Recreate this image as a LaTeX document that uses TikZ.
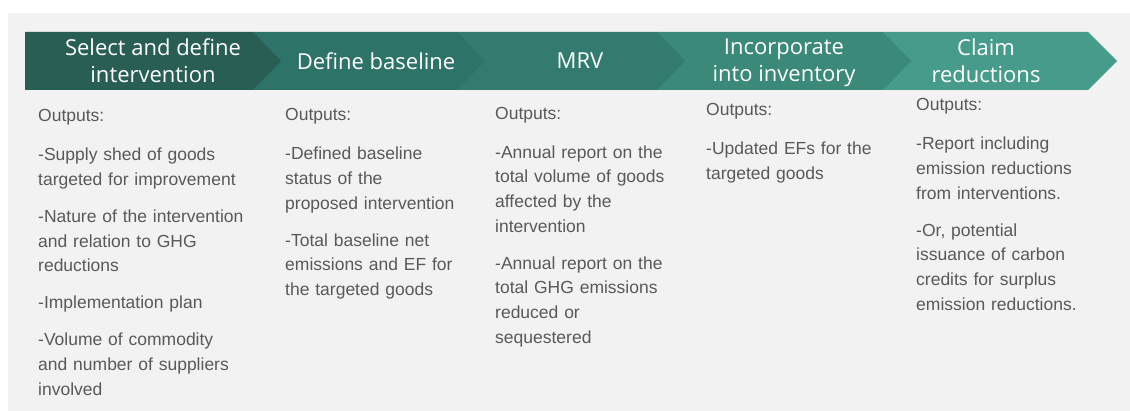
\documentclass[tikz,border=0pt]{standalone}
\usepackage{fontspec}
\setmainfont{Liberation Sans}
\newfontfamily\hdrfont{Open Sans}
\definecolor{panel}{HTML}{F2F2F2}
\definecolor{bodytxt}{HTML}{595959}
\definecolor{stepA}{HTML}{295E55}
\definecolor{stepB}{HTML}{2E7367}
\definecolor{stepC}{HTML}{327B6E}
\definecolor{stepD}{HTML}{3A8979}
\definecolor{stepE}{HTML}{479B8B}

\begin{document}
\begin{tikzpicture}[x=1pt,y=-1pt,
  hdr/.style={text=white,font=\hdrfont\fontsize{22}{27}\selectfont,align=center,inner sep=0pt},
  outp/.style={text=bodytxt,font=\fontsize{17.5}{24.7}\selectfont,align=left,
    anchor=north west,inner sep=0pt,text width=215pt}]
\useasboundingbox (0,0) rectangle (1130,411);
\fill[panel] (8,13) rectangle (1130,411);
% chevrons, last one first so each tip lies on the next
\fill[stepE] (883,32) -- (1088,32) -- (1117,61) -- (1088,90) -- (883,90) -- cycle;
\fill[stepD] (657,32) -- (883,32) -- (911,61) -- (883,90) -- (657,90) -- cycle;
\fill[stepC] (457,32) -- (657,32) -- (685,61) -- (657,90) -- (457,90) -- cycle;
\fill[stepB] (253,32) -- (457,32) -- (485,61) -- (457,90) -- (253,90) -- cycle;
\fill[stepA] (25,32) -- (253,32) -- (281,61) -- (253,90) -- (25,90) -- cycle;
\node[hdr] (selhdr) at (153,61) {Select and define\\intervention};
\node[hdr] (basehdr) at (376,61) {Define baseline};
\node[hdr] (mrvhdr) at (580,61) {MRV};
\node[hdr] (invhdr) at (784,63) {Incorporate\\into inventory};
\node[hdr] (claimhdr) at (986,61) {Claim\\reductions};
% outputs under each step
\node[outp] (selout) at (38,104.4) {\strut Outputs:\\[14.3pt]
  -Supply shed of goods\\targeted for improvement\\[12.3pt]
  -Nature of the intervention\\and relation to GHG\\reductions\\[12.3pt]
  -Implementation plan\\[12.3pt]
  -Volume of commodity\\and number of suppliers\\involved};
\node[outp] (baseout) at (285,103.4) {\strut Outputs:\\[14.3pt]
  -Defined baseline\\status of the\\proposed intervention\\[12.3pt]
  -Total baseline net\\emissions and EF for\\the targeted goods};
\node[outp] (mrvout) at (495,101.7) {\strut Outputs:\\[14.3pt]
  -Annual report on the\\total volume of goods\\affected by the\\intervention\\[12.3pt]
  -Annual report on the\\total GHG emissions\\reduced or\\sequestered};
\node[outp] (invout) at (706,98.4) {\strut Outputs:\\[14.3pt]
  -Updated EFs for the\\targeted goods};
\node[outp] (claimout) at (916,93.4) {\strut Outputs:\\[14.3pt]
  -Report including\\emission reductions\\from interventions.\\[12.3pt]
  -Or, potential\\issuance of carbon\\credits for surplus\\emission reductions.};
\end{tikzpicture}
\end{document}
